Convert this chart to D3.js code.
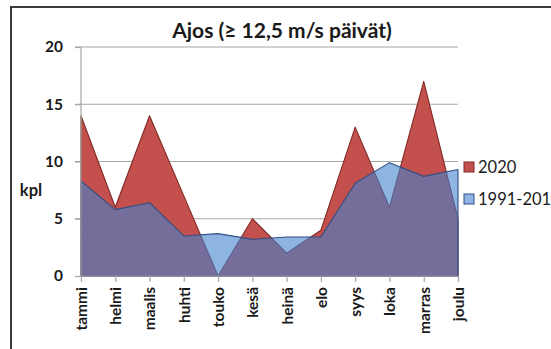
<!DOCTYPE html>
<html>
<head>
<meta charset="utf-8">
<script src="https://cdn.jsdelivr.net/npm/d3@7"></script>
<style>
  html, body { margin: 0; padding: 0; background: #fff; overflow: hidden; }
  svg { display: block; }
  text { font-family: Lato, "Open Sans", sans-serif; fill: #1a1a1a; }
</style>
</head>
<body>
<svg id="chart" width="551" height="349"></svg>
<script>
// Monthly count of days with wind >= 12.5 m/s at Ajos
const months = ["tammi", "helmi", "maalis", "huhti", "touko", "kesä", "heinä", "elo", "syys", "loka", "marras", "joulu"];
const days2020 = [14, 6, 14, 7, 0, 5, 2, 4, 13, 6, 17, 5];
const days1991_2010 = [8.3, 5.8, 6.4, 3.5, 3.7, 3.2, 3.4, 3.4, 8.1, 9.9, 8.7, 9.3];
const yTicks = [0, 5, 10, 15, 20];
const seriesNames = ["2020", "1991-2010"];

const svg = d3.select("#chart");
const W = 551, H = 349;

// outer frame (right and bottom edges fall outside the view)
svg.append("rect")
  .attr("x", 11).attr("y", 7)
  .attr("width", W + 20).attr("height", H + 20)
  .attr("fill", "none").attr("stroke", "#3b3b3b").attr("stroke-width", 2);

const plotLeft = 81, plotRight = 458, plotTop = 47, plotBottom = 276;

const x = d3.scalePoint().domain(months).range([plotLeft, plotRight]);
const y = d3.scaleLinear().domain([0, 20]).range([plotBottom, plotTop]);

// horizontal gridlines
svg.append("g").selectAll("line").data(yTicks.filter(d => d > 0)).join("line")
  .attr("x1", plotLeft - 6).attr("x2", plotRight)
  .attr("y1", d => y(d)).attr("y2", d => y(d))
  .attr("stroke", "#a6a6a6").attr("stroke-width", 1.2);

const area = d3.area()
  .x((d, i) => x(months[i]))
  .y0(y(0))
  .y1(d => y(d));

// 2020 series (drawn first, sits behind)
svg.append("path")
  .datum(days2020)
  .attr("d", area)
  .attr("fill", "#c3504c")
  .attr("stroke", "#7f2a26").attr("stroke-width", 1.1)
  .attr("stroke-linejoin", "round");

// 1991-2010 reference period, translucent over the 2020 area
svg.append("path")
  .datum(days1991_2010)
  .attr("d", area)
  .attr("fill", "#4282cf").attr("fill-opacity", 0.6)
  .attr("stroke", "#2f4f85").attr("stroke-width", 1.1)
  .attr("stroke-linejoin", "round");

// y axis
const yAxis = d3.axisLeft(y).tickValues(yTicks).tickSize(6).tickPadding(12);
const gy = svg.append("g").attr("transform", `translate(${plotLeft},0)`).call(yAxis);
gy.select(".domain").attr("stroke", "#a6a6a6").attr("stroke-width", 1.2).attr("d", `M0,${plotTop}V${plotBottom}`);
gy.selectAll(".tick line").attr("stroke", "#a6a6a6").attr("stroke-width", 1.2);
gy.selectAll(".tick text")
  .attr("font-family", "Lato, sans-serif").attr("font-weight", "bold")
  .attr("font-size", 15.5).attr("fill", "#1a1a1a");

// x axis with vertical month labels
const xAxis = d3.axisBottom(x).tickSize(6).tickPadding(6);
const gx = svg.append("g").attr("transform", `translate(0,${plotBottom})`).call(xAxis);
gx.select(".domain").attr("stroke", "#a6a6a6").attr("stroke-width", 1.2).attr("d", `M${plotLeft},0H${plotRight}`);
gx.selectAll(".tick line").attr("stroke", "#a6a6a6").attr("stroke-width", 1.2);
gx.selectAll(".tick text")
  .attr("font-family", "Lato, sans-serif").attr("font-weight", "bold")
  .attr("font-size", 15.5).attr("fill", "#1a1a1a")
  .attr("transform", "rotate(-90)")
  .attr("text-anchor", "end")
  .attr("x", -11).attr("y", 0).attr("dy", "0.35em");

// axis unit
svg.append("text")
  .attr("x", 31).attr("y", 190).attr("dy", "0.35em")
  .attr("text-anchor", "middle")
  .attr("font-weight", "bold").attr("font-size", 16.5)
  .text("kpl");

// title
svg.append("text")
  .attr("x", 282).attr("y", 38)
  .attr("text-anchor", "middle")
  .attr("font-weight", "bold").attr("font-size", 21)
  .text("Ajos (≥ 12,5 m/s päivät)");

// legend
const legendColors = [
  { fill: "#c3504c", stroke: "#7f2a26" },
  { fill: "#8fb4e3", stroke: "#2f4f85" }
];
const lg = svg.append("g");
seriesNames.forEach((name, i) => {
  const cy = 167 + i * 32;
  lg.append("rect")
    .attr("x", 464).attr("y", cy - 5)
    .attr("width", 10).attr("height", 10)
    .attr("fill", legendColors[i].fill)
    .attr("stroke", legendColors[i].stroke).attr("stroke-width", 1);
  lg.append("text")
    .attr("x", 478).attr("y", cy).attr("dy", "0.35em")
    .attr("font-size", 16.5)
    .text(name);
});
</script>
</body>
</html>
